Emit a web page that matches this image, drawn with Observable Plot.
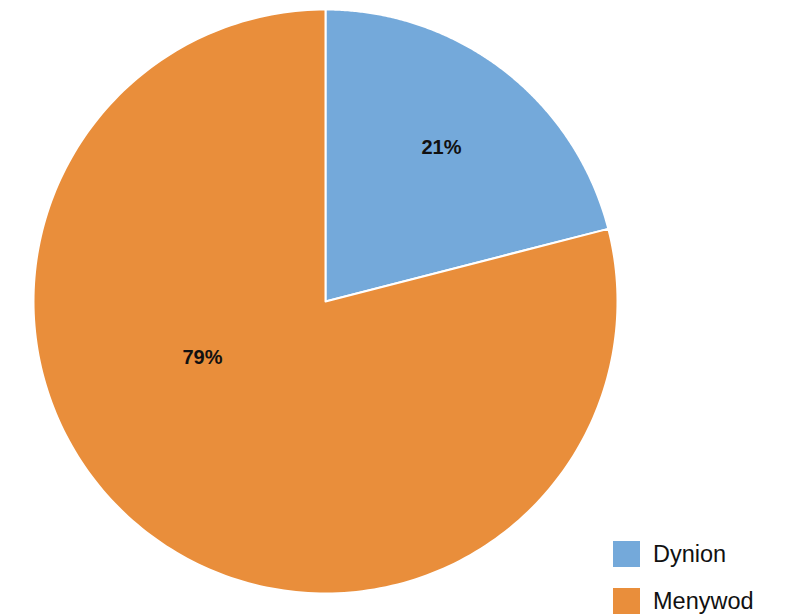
<!DOCTYPE html>
<html><head><meta charset="utf-8">
<script src="https://cdn.jsdelivr.net/npm/d3@7"></script>
<script src="https://cdn.jsdelivr.net/npm/@observablehq/plot@0.6"></script>
<style>
body{margin:0;background:#fff;font-family:"Liberation Sans",Arial,sans-serif}
#wrap{position:relative;width:785px;height:615px;overflow:hidden}
.row{position:absolute;left:613px;display:flex;align-items:center;height:26px}
.sw{width:27px;height:26px;display:inline-block}
.lb{margin-left:13px;font-size:23.5px;line-height:26px;color:#111}
</style></head>
<body><div id="wrap"></div>
<script>
// Data
const categories = ["Dynion", "Menywod"];
const shares = [21, 79];
const valueLabels = ["21%", "79%"];
const colors = ["#74a9da", "#e98e3b"];

// Layout (not data)
const labelPlacement = [{r: 0.66, shift: -0.8}, {r: 0.463, shift: 27.7}];

const pie = d3.pie().sort(null).value(d => d)(shares);
const slices = [];
pie.forEach((p, i) => {
  const steps = 240;
  slices.push({cat: categories[i], x: 0, y: 0});
  for (let k = 0; k <= steps; k++) {
    const a = p.startAngle + (p.endAngle - p.startAngle) * k / steps;
    slices.push({cat: categories[i], x: Math.sin(a), y: Math.cos(a)});
  }
  slices.push({cat: categories[i], x: 0, y: 0});
});
const labelData = pie.map((p, i) => {
  const a = (p.startAngle + p.endAngle) / 2 + labelPlacement[i].shift * Math.PI / 180;
  const r = labelPlacement[i].r;
  return {text: valueLabels[i], x: r * Math.sin(a), y: r * Math.cos(a)};
});

const plot = Plot.plot({
  width: 785,
  height: 615,
  marginLeft: 33,
  marginRight: 168,
  marginTop: 9,
  marginBottom: 22,
  x: {domain: [-1, 1], axis: null},
  y: {domain: [-1, 1], axis: null},
  color: {domain: categories, range: colors},
  style: {fontFamily: "'Liberation Sans', Arial, sans-serif", background: "#fff"},
  marks: [
    Plot.line(slices, {x: "x", y: "y", z: "cat", fill: "cat", stroke: "#fff", strokeWidth: 2, strokeLinejoin: "round"}),
    Plot.text(labelData, {x: "x", y: "y", text: "text", fontSize: 20, fontWeight: "bold", fill: "#111"})
  ]
});
const wrap = document.getElementById("wrap");
wrap.appendChild(plot);

const color = plot.scale("color");
categories.forEach((c, i) => {
  const row = document.createElement("div");
  row.className = "row";
  row.style.top = (541 + i * 47) + "px";
  const sw = document.createElement("span");
  sw.className = "sw";
  sw.style.background = color.range[color.domain.indexOf(c)];
  const lb = document.createElement("span");
  lb.className = "lb";
  lb.textContent = c;
  row.appendChild(sw);
  row.appendChild(lb);
  wrap.appendChild(row);
});
</script>
</body></html>
